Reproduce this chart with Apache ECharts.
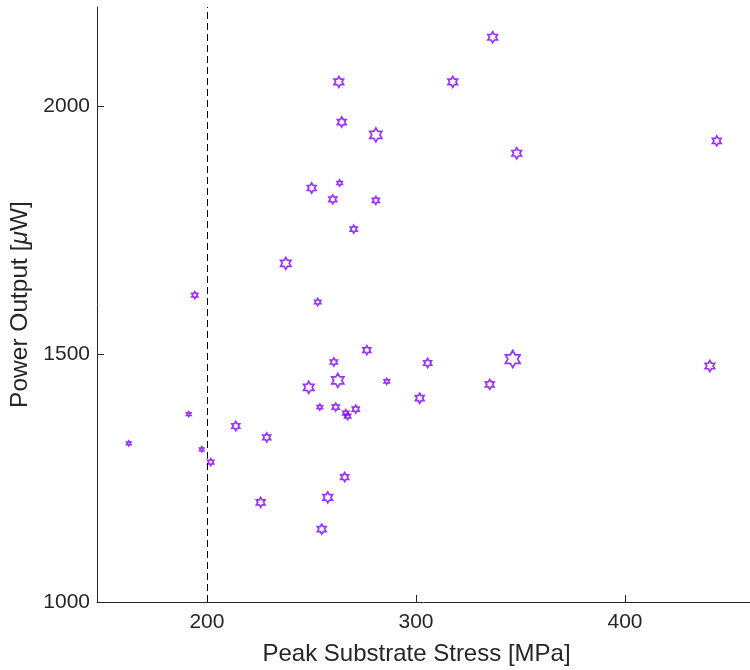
<!DOCTYPE html>
<html>
<head>
<meta charset="utf-8">
<script src="https://cdn.jsdelivr.net/npm/echarts@6/dist/echarts.min.js"></script>
<style>
  html, body { margin: 0; padding: 0; background: #fff; }
  #chart { width: 750px; height: 670px; }
</style>
</head>
<body>
<div id="chart"></div>
<script>
// Peak substrate stress [MPa] per sample
const stress = [162.6, 191.3, 197.5, 194.2, 201.8, 213.8, 228.6, 225.7, 237.7, 250.1,
                260.2, 263.5, 263.1, 264.5, 280.8, 280.8, 270.2, 253.0, 317.6, 336.7,
                348.2, 443.9, 276.5, 260.7, 305.6, 346.3, 262.6, 248.7, 286.0, 335.3,
                440.6, 301.8, 254.0, 261.6, 266.4, 267.3, 271.2, 265.9, 257.8, 254.9];
// Power output [µW] per sample
const power = [1320, 1379, 1308, 1619, 1282, 1355, 1332, 1201, 1683, 1835,
               1812, 1845, 2049, 1968, 1942, 1810, 1752, 1605, 2049, 2139,
               1905, 1930, 1508, 1484, 1482, 1490, 1447, 1433, 1445, 1439,
               1476, 1411, 1393, 1393, 1381, 1375, 1389, 1252, 1211, 1147];
// Marker size for each sample (px)
const markerSize = [5, 5, 5, 7, 7, 9, 9, 10, 12, 10,
                    9, 6, 11, 10, 14, 8, 8, 7, 11, 11,
                    11, 10, 9, 8, 9, 17, 14, 12, 6, 10,
                    11, 10, 6, 8, 7, 7, 8, 9, 11, 10];

const xTicks = [200, 300, 400];
const yTicks = [1000, 1500, 2000];
const thresholdStress = 200;

const hexagram = 'path://M100 0 L128.9 50 L186.6 50 L157.7 100 L186.6 150 L128.9 150 L100 200 L71.1 150 L13.4 150 L42.3 100 L13.4 50 L71.1 50 Z';
const ink = '#262626';
const purple = '#8000ff';
const font = 'Liberation Sans, Arial, Helvetica, sans-serif';

const points = stress.map((s, i) => [s, power[i]]);

const chart = echarts.init(document.getElementById('chart'), null, { renderer: 'canvas' });
chart.setOption({
  animation: false,
  backgroundColor: '#fff',
  grid: { left: 97, right: 0, top: 7, bottom: 68, containLabel: false, outerBoundsMode: 'none' },
  xAxis: {
    type: 'value',
    min: 147.4,
    max: 459.8,
    name: 'Peak Substrate Stress [MPa]',
    nameLocation: 'middle',
    nameGap: 40,
    nameTextStyle: { fontFamily: font, fontSize: 24, color: ink, padding: [0, 14, 0, 0] },
    axisLine: { show: true, onZero: false, lineStyle: { color: ink, width: 1 } },
    axisTick: { show: true, inside: true, length: 7, customValues: xTicks, lineStyle: { color: ink } },
    axisLabel: { customValues: xTicks, margin: 10, fontFamily: font, fontSize: 21, color: ink },
    splitLine: { show: false }
  },
  yAxis: {
    type: 'value',
    min: 1000,
    max: 2200,
    name: 'Power Output [{i|μ}W]',
    nameLocation: 'middle',
    nameGap: 43,
    nameRotate: 90,
    nameTextStyle: {
      fontFamily: font, fontSize: 24.5, color: ink,
      rich: { i: { fontFamily: font, fontSize: 24.5, fontStyle: 'italic', color: ink } }
    },
    axisLine: { show: true, onZero: false, lineStyle: { color: ink, width: 1 } },
    axisTick: { show: true, inside: true, length: 7, customValues: yTicks, lineStyle: { color: ink } },
    axisLabel: {
      customValues: yTicks, margin: 7, fontFamily: font, fontSize: 21, color: ink,
      formatter: (v) => String(v)
    },
    splitLine: { show: false }
  },
  series: [{
    type: 'scatter',
    data: points,
    symbol: hexagram,
    symbolKeepAspect: true,
    symbolSize: (val, params) => markerSize[params.dataIndex],
    itemStyle: { color: 'rgba(255,255,255,0)', borderColor: purple, borderWidth: 1.7 },
    emphasis: { disabled: true },
    markLine: {
      silent: true,
      symbol: ['none', 'none'],
      label: { show: false },
      lineStyle: { color: '#000', width: 1, type: [7, 4] },
      data: [{ xAxis: thresholdStress }]
    }
  }]
});
</script>
</body>
</html>
